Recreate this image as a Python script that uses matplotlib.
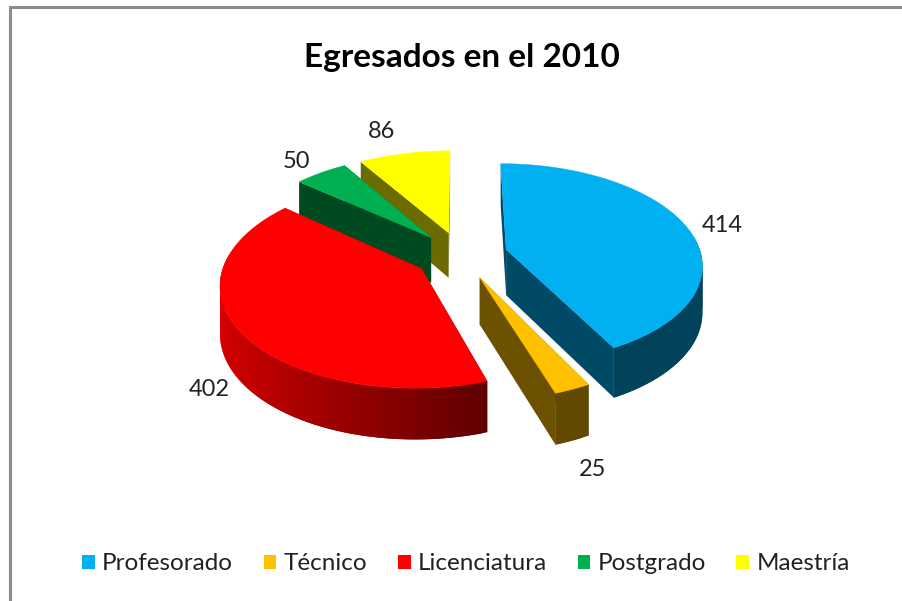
import numpy as np
import matplotlib
matplotlib.use('Agg')
import matplotlib.pyplot as plt
from matplotlib.colors import to_rgb
from matplotlib.patches import Patch, Polygon

categories = ['Profesorado', 'Técnico', 'Licenciatura', 'Postgrado', 'Maestría']
values = [414, 25, 402, 50, 86]
colors = ['#00B0F0', '#FFC000', '#FF0000', '#00B050', '#FFFF00']

# look of the 3d pie, in pixels of the picture
label_xy = [(722, 226), (593, 469), (209, 390), (296, 161), (382, 131)]
draw_order = [4, 3, 2, 0, 1]
cx, cy = 461, 255
rx, ry = 195, 99
persp = 0.138
depth = 46
explode = 0.24

plt.rcParams['font.family'] = ['Lato', 'DejaVu Sans']


def project(u, v, down=0):
    w = 1 + persp * v
    return cx + rx * u / w, cy - ry * v / w + down * (1 - 0.1 * v)


def shade(col, f):
    return tuple(c * f for c in to_rgb(col))


def draw_quad(ax, pts, col, z, lw=0.0):
    ax.add_patch(Polygon(pts, closed=True, fc=col, ec=col, lw=lw, zorder=z))


def draw_slice(ax, a0, a1, col, z):
    mid = (a0 + a1) / 2
    ox, oy = explode * np.sin(mid), explode * np.cos(mid)
    ang = np.linspace(a0, a1, max(int((a1 - a0) * 40), 3))
    us = ox + np.sin(ang)
    vs = oy + np.cos(ang)

    # the two cut faces
    for a in (a0, a1):
        u1, v1 = ox + np.sin(a), oy + np.cos(a)
        draw_quad(ax, [project(ox, oy), project(u1, v1),
                       project(u1, v1, depth), project(ox, oy, depth)],
                  shade(col, 0.42), z)

    # outer wall, light comes from the left. quads overlap the next one so no seams show
    n = len(ang)
    for i in range(n - 1):
        if np.cos(ang[i]) > 0.1 and np.cos(ang[min(i + 1, n - 1)]) > 0.1:
            continue
        j = min(i + 2, n - 1)
        f = np.interp(np.sin(ang[i]), [-1, 0.3], [0.85, 0.38])
        pts = [project(us[k], vs[k]) for k in range(i, j + 1)]
        pts += [project(us[k], vs[k], depth) for k in range(j, i - 1, -1)]
        draw_quad(ax, pts, shade(col, f), z + 0.1 + i * 1e-4)

    top = [project(ox, oy)] + [project(u, v) for u, v in zip(us, vs)]
    draw_quad(ax, top, col, z + 0.2, lw=0.3)


fig = plt.figure(figsize=(9.02, 6.01), dpi=100)
ax = fig.add_axes([0, 0, 1, 1])
ax.set_xlim(0, 902)
ax.set_ylim(601, 0)
ax.axis('off')

# chart frame, only left and top show
ax.plot([10, 10, 902], [601, 7, 7], color='#8c8c8c', lw=2.2, solid_joinstyle='miter')

edges = np.concatenate([[0], np.cumsum(values)]) / np.sum(values) * 2 * np.pi
for n, i in enumerate(draw_order):
    draw_slice(ax, edges[i], edges[i + 1], colors[i], 2 + n)

for val, (x, y) in zip(values, label_xy):
    ax.text(x, y, str(val), fontsize=17, color='#222222', ha='center', va='center', zorder=10)

ax.text(462, 57, 'Egresados en el 2010', fontsize=24, fontweight='bold', color='black',
        ha='center', va='center')

handles = [Patch(fc=c, ec='none', label=l) for c, l in zip(colors, categories)]
ax.legend(handles=handles, ncol=5, loc='center', bbox_to_anchor=(466 / 902, 1 - 564 / 601),
          frameon=False, fontsize=17.5, labelcolor='#222222', handlelength=0.53, handleheight=0.53,
          handletextpad=0.3, columnspacing=1.25, borderpad=0)

fig.savefig('out.png', dpi=100, facecolor='white')
